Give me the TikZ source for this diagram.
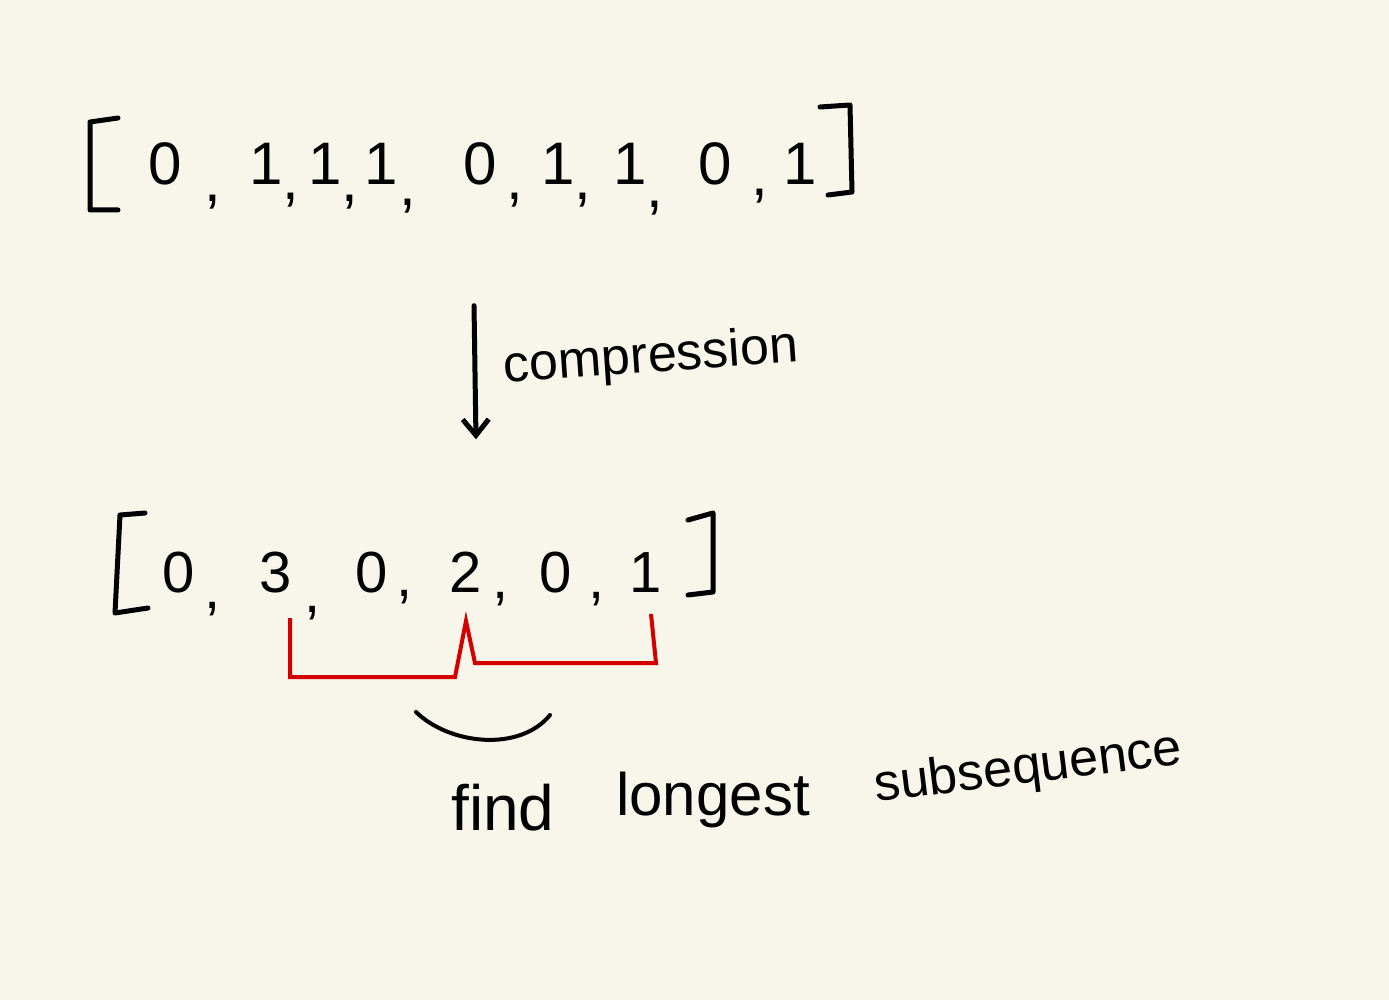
\documentclass[tikz,border=0pt]{standalone}
\usepackage{fontspec}
\setmainfont{Liberation Sans}
\usetikzlibrary{arrows.meta}
\definecolor{paper}{HTML}{F8F6EA}
\definecolor{inkred}{HTML}{D40000}
\tikzset{
  ink/.style={line width=5pt, line cap=round, line join=round, black},
  redink/.style={line width=4pt, line join=miter, inkred},
  telem/.style={anchor=base west, inner sep=0pt, font=\fontsize{60}{60}\selectfont},
  belem/.style={anchor=base west, inner sep=0pt, font=\fontsize{58}{58}\selectfont},
  label/.style={anchor=base, inner sep=0pt},
}
\begin{document}
\begin{tikzpicture}[x=1pt,y=-1pt]
\fill[paper] (0,0) rectangle (1389,1000);
\useasboundingbox (0,0) rectangle (1389,1000);
% top list
\draw[ink] (118,118) -- (90,122) -- (90,210) -- (118,210);
\draw[ink] (820,107) -- (850,105) -- (852,192) -- (828,195);
\foreach \x/\d/\g/\r [count=\i] in {165/0/23/17,266/1/0/15,325/1/0/17,381/1/2/21,480/0/10/15,558/1/0/15,630/1/0/23,715/0/20/11}
  \node[telem] (t\i) at ({\x-16.7},185) {\d\hspace{\g pt}\raisebox{-\r pt}{,}};
\node[telem] (t9) at ({800-16.7},185) {1};
% arrow
\node[inner sep=0pt] (a1) at (474,305) {};
\node[inner sep=0pt] (a2) at (476,440) {};
\draw[ink, -{Straight Barb[length=16pt,width=26pt,line width=5pt]}] (a1) -- (a2);
\node[label, rotate=4, font=\fontsize{52}{52}\selectfont] (comp) at (652,372) {compression};
% bottom list
\draw[ink] (145,513) -- (120,515) -- (115,613) -- (148,608);
\draw[ink] (688,520) -- (713,513) -- (713,592) -- (688,595);
\foreach \x/\d/\g/\r [count=\i] in {178/0/10/16,275/3/13/20,371/0/9/4,465/2/11/6,555/0/17/6}
  \node[belem] (b\i) at ({\x-16.1},592) {\d\hspace{\g pt}\raisebox{-\r pt}{,}};
\node[belem] (b6) at ({645-16.1},592) {1};
% red bracket
\draw[redink] (290,618) -- (290,677) -- (455,677) -- (466,621) -- (475,663) -- (656,663) -- (651,614);
% black arc
\coordinate (arcL) at (416,712);
\coordinate (arcR) at (550,715);
\draw[ink, line width=4pt] (arcL) .. controls (450,745) and (520,752) .. (arcR);
% caption
\node[label, font=\fontsize{64}{64}\selectfont] (find) at (503,830) {find};
\node[label, font=\fontsize{60}{60}\selectfont] (long) at (713,815) {longest};
\node[label, rotate=7, font=\fontsize{52}{52}\selectfont] (subs) at (1030,783) {subsequence};
\end{tikzpicture}
\end{document}
